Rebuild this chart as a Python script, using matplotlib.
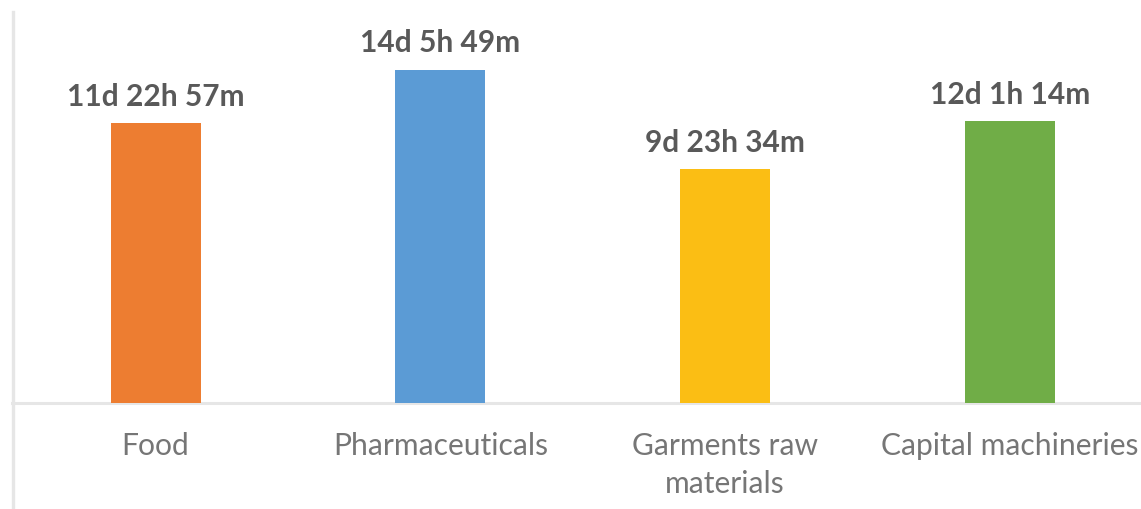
import matplotlib
matplotlib.use("Agg")
import matplotlib.pyplot as plt
from matplotlib.lines import Line2D

plt.rcParams["font.family"] = ["Lato", "DejaVu Sans"]

# Average clearance time per import category
categories = ["Food", "Pharmaceuticals", "Garments raw\nmaterials", "Capital machineries"]
days = [11, 14, 9, 12]
hours = [22, 5, 23, 1]
minutes = [57, 49, 34, 14]
colors = ["#ED7D31", "#5B9BD5", "#FBBE14", "#70AD47"]

total_minutes = [d * 1440 + h * 60 + m for d, h, m in zip(days, hours, minutes)]
value_labels = [f"{d}d {h}h {m}m" for d, h, m in zip(days, hours, minutes)]

W, H = 1141, 510
fig = plt.figure(figsize=(W / 100, H / 100), dpi=100)
fig.patch.set_facecolor("white")

base_y = 404   # baseline, pixels from top
top_y = 13
ax = fig.add_axes([12 / W, (H - base_y) / H, (W - 12) / W, (base_y - top_y) / H])

x = list(range(len(categories)))
ax.bar(x, total_minutes, width=0.316, color=colors, zorder=2)

for xi, v, lab in zip(x, total_minutes, value_labels):
    ax.annotate(lab, (xi, v), xytext=(0, 9.5), textcoords="offset points",
                ha="center", va="bottom", fontsize=21.5, fontweight="bold",
                color="#595959")

ax.set_xlim(-0.504, 3.46)
ax.set_ylim(0, 24050)
ax.set_xticks(x)
ax.set_xticklabels(categories, fontsize=21.6, color="#767676", linespacing=1.45)
ax.tick_params(axis="x", length=0, pad=20)
ax.set_yticks([])
for s in ["top", "right", "left"]:
    ax.spines[s].set_visible(False)
ax.spines["bottom"].set_color("#e6e6e6")
ax.spines["bottom"].set_linewidth(2.2)
ax.spines["bottom"].set_zorder(1)

# left axis rule running to the bottom edge
fig.add_artist(Line2D([12.5 / W, 12.5 / W], [0, (H - top_y) / H],
                      transform=fig.transFigure, color="#e6e6e6", linewidth=2.4))

fig.savefig("out.png", dpi=100, facecolor="white")
